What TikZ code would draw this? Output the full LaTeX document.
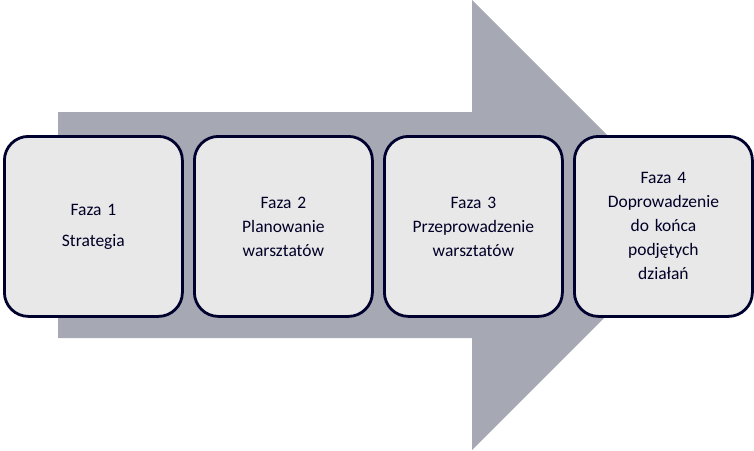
\documentclass[tikz,border=0pt]{standalone}
\usepackage{fontspec}
\setmainfont{Carlito}
\begin{document}
\begin{tikzpicture}[x=1pt,y=-1pt,
  phase/.style={draw=black!70!blue!60!black,line width=2.8pt,fill=gray!18,rounded corners=24pt,minimum width=178pt,minimum height=180pt,anchor=north west,inner sep=0pt,align=center,text width=160pt,font=\fontsize{17.5}{24}\selectfont,text=black!85!blue},
  ]
\useasboundingbox (0,0) rectangle (754,450);
\fill[color={rgb,255:red,166;green,169;blue,180}] (58,112) -- (472,112) -- (472,0) -- (697,225) -- (472,450) -- (472,338) -- (58,338) -- cycle;
\node[phase] (p1) at (3,135) {Faza 1\\[7pt]Strategia};
\node[phase] (p2) at (193,135) {Faza 2\\Planowanie\\warsztatów};
\node[phase] (p3) at (383,135) {Faza 3\\Przeprowadzenie\\warsztatów};
\node[phase] (p4) at (573,135) {Faza 4\\Doprowadzenie\\do końca\\podjętych\\działań};
\end{tikzpicture}
\end{document}
